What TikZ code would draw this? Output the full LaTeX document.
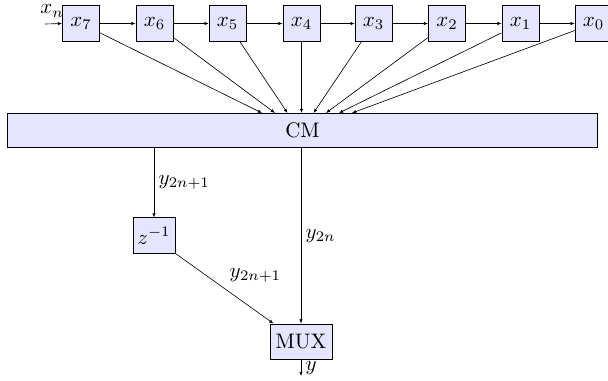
\documentclass[tikz,border=0pt]{standalone}
\usetikzlibrary{arrows.meta,calc}
\begin{document}
\begin{tikzpicture}[x=0.476pt,y=-0.476pt,
  box/.style={draw, fill=blue!10, line width=0.45pt, inner sep=0pt, minimum width=17.6pt, minimum height=16.7pt},
  arr/.style={line width=0.3pt, -{Latex[length=2pt,width=1.6pt]}},
  lbl/.style={inner sep=2pt}]
\useasboundingbox (0,0) rectangle (608,381);
% register chain
\node[box] (x7) at (81,23.5) {$x_7$};
\node[box] (x6) at (154.5,23.5) {$x_6$};
\node[box] (x5) at (227.7,23.5) {$x_5$};
\node[box] (x4) at (301.5,23.5) {$x_4$};
\node[box] (x3) at (373.7,23.5) {$x_3$};
\node[box] (x2) at (447,23.5) {$x_2$};
\node[box] (x1) at (520.5,23.5) {$x_1$};
\node[box] (x0) at (593.7,23.5) {$x_0$};
\node[box, minimum width=280.4pt, minimum height=16.2pt] (CM) at (302.5,130) {CM};
\node[box, minimum width=20pt] (z) at (154,235.5) {$z^{-1}$};
\node[box, minimum width=29.5pt, minimum height=17.1pt] (MUX) at (301,342) {MUX};
% input
\coordinate (in) at (45,24);
\draw[arr] (in) -- (x7.west);
\node[lbl, inner sep=0pt] (xn) at (52,11) {$x_n$};
\draw[arr] (x7) -- (x6);
\draw[arr] (x6) -- (x5);
\draw[arr] (x5) -- (x4);
\draw[arr] (x4) -- (x3);
\draw[arr] (x3) -- (x2);
\draw[arr] (x2) -- (x1);
\draw[arr] (x1) -- (x0);
% into CM
\coordinate (t7) at (262,113);
\coordinate (t6) at (275,113);
\coordinate (t5) at (287.5,113);
\coordinate (t4) at (301.5,113);
\coordinate (t3) at (313.5,113);
\coordinate (t2) at (326,113);
\coordinate (t1) at (339,113);
\coordinate (t0) at (352,113);
\draw[arr] (x7) -- (t7);
\draw[arr] (x6) -- (t6);
\draw[arr] (x5) -- (t5);
\draw[arr] (x4) -- (t4);
\draw[arr] (x3) -- (t3);
\draw[arr] (x2) -- (t2);
\draw[arr] (x1) -- (t1);
\draw[arr] (x0) -- (t0);
% outputs
\draw[arr] (z |- CM.south) -- node[lbl, right, midway] {$y_{2n+1}$} (z.north);
\draw[arr] (MUX |- CM.south) -- node[lbl, right, midway] {$y_{2n}$} (MUX.north);
\draw[arr] (z.south east) -- node[lbl, pos=0.55, anchor=south west, xshift=-2pt, yshift=2.4pt] {$y_{2n+1}$} ($(MUX.north west)+(4,0)$);
\coordinate (out) at (301,376);
\draw[arr] (MUX.south) -- node[lbl, right, midway] {$y$} (out);
\end{tikzpicture}
\end{document}
